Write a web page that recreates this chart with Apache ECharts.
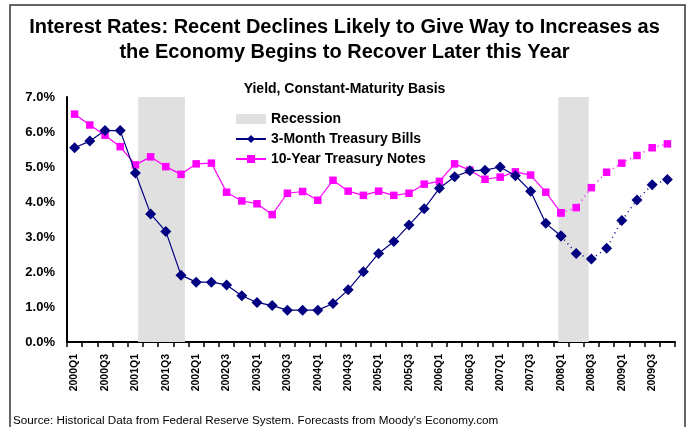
<!DOCTYPE html>
<html>
<head>
<meta charset="UTF-8">
<title>Interest Rates</title>
<script src="https://cdn.jsdelivr.net/npm/echarts@6/dist/echarts.min.js"></script>
<style>
  html, body { margin: 0; padding: 0; background: #fff; }
  #chart { width: 689px; height: 427px; }
</style>
</head>
<body>
<div id="chart"></div>
<script>
// quarters 2000Q1 .. 2009Q4
var quarters = [];
for (var y = 2000; y <= 2009; y++) {
    for (var q = 1; q <= 4; q++) quarters.push(y + 'Q' + q);
}

// 3-Month Treasury Bills, %
var bills = [5.55, 5.74, 6.04, 6.04, 4.83, 3.66, 3.16, 1.91,
             1.71, 1.71, 1.63, 1.32, 1.13, 1.04, 0.91, 0.91,
             0.91, 1.10, 1.49, 2.01, 2.53, 2.87, 3.34, 3.81,
             4.39, 4.72, 4.89, 4.91, 5.00, 4.75, 4.31, 3.39,
             3.03, 2.53, 2.37, 2.68, 3.47, 4.06, 4.49, 4.64];

// 10-Year Treasury Notes, %
var notes = [6.51, 6.20, 5.91, 5.58, 5.06, 5.29, 5.01, 4.79,
             5.09, 5.11, 4.28, 4.03, 3.95, 3.64, 4.25, 4.30,
             4.05, 4.62, 4.31, 4.19, 4.31, 4.19, 4.25, 4.51,
             4.59, 5.09, 4.91, 4.65, 4.71, 4.86, 4.77, 4.28,
             3.69, 3.84, 4.41, 4.85, 5.11, 5.33, 5.55, 5.66];

// last quarter of historical data, later ones are forecasts
var lastActual = '2008Q1';

// recession periods, in decimal years
var recessions = [[2001.17, 2001.94], [2008.08, 2008.58]];

var yTicks = [0, 1, 2, 3, 4, 5, 6, 7];

var cut = quarters.indexOf(lastActual);
function actual(arr) {
    return arr.map(function (v, i) { return i <= cut ? v : null; });
}
function forecast(arr) {
    return arr.map(function (v, i) { return i >= cut ? v : null; });
}

var font = 'Liberation Sans, Arial, sans-serif';
var navy = '#000080';
var pink = '#ff00ff';

var chart = echarts.init(document.getElementById('chart'));

var option = {
    animation: false,
    backgroundColor: '#fff',
    textStyle: { fontFamily: font },
    title: [{
        text: 'Interest Rates: Recent Declines Likely to Give Way to Increases as\nthe Economy Begins to Recover Later this Year',
        left: 'center',
        top: 10,
        padding: [5, 5, 5, 13],
        textStyle: { fontSize: 20, fontWeight: 'bold', color: '#000', lineHeight: 25, fontFamily: font }
    }, {
        text: 'Yield, Constant-Maturity Basis',
        left: 'center',
        top: 77,
        padding: [5, 5, 5, 11],
        textStyle: { fontSize: 14, fontWeight: 'bold', color: '#000', fontFamily: font }
    }, {
        text: "Source: Historical Data from Federal Reserve System. Forecasts from Moody's Economy.com",
        left: 8,
        top: 410,
        textStyle: { fontSize: 11.7, fontWeight: 'normal', color: '#000', fontFamily: font }
    }],
    legend: {
        orient: 'vertical',
        left: 230,
        top: 107,
        itemWidth: 30,
        itemHeight: 10,
        itemGap: 6,
        textStyle: { fontSize: 14, fontWeight: 'bold', color: '#000', fontFamily: font },
        data: [
            { name: 'Recession', icon: 'rect' },
            '3-Month Treasury Bills',
            '10-Year Treasury Notes'
        ]
    },
    grid: { left: 67, right: 14, top: 97, bottom: 85 },
    xAxis: [{
        type: 'category',
        data: quarters,
        boundaryGap: true,
        axisLine: { lineStyle: { color: '#000', width: 2 } },
        axisTick: { show: true, interval: 0, length: 5, lineStyle: { color: '#000', width: 1.5 } },
        axisLabel: {
            interval: 1,
            rotate: 90,
            margin: 12,
            fontSize: 10.5,
            fontWeight: 'bold',
            color: '#000',
            fontFamily: font
        },
        splitLine: { show: false }
    }, {
        type: 'value',
        min: 2000,
        max: 2010,
        show: false
    }],
    yAxis: {
        type: 'value',
        min: yTicks[0],
        max: yTicks[yTicks.length - 1],
        interval: 1,
        axisLine: { show: true, lineStyle: { color: '#000', width: 2 } },
        axisTick: { show: false },
        splitLine: { show: false },
        axisLabel: {
            margin: 12,
            fontSize: 13,
            fontWeight: 'bold',
            color: '#000',
            fontFamily: font,
            formatter: function (v) { return v.toFixed(1) + '%'; }
        }
    },
    series: [{
        name: 'Recession',
        type: 'line',
        xAxisIndex: 1,
        data: [],
        itemStyle: { color: '#e0e0e0' },
        z: 0,
        markArea: {
            silent: true,
            itemStyle: { color: '#e0e0e0' },
            data: recessions.map(function (r) {
                return [{ xAxis: r[0] }, { xAxis: r[1] }];
            })
        }
    }, {
        name: '3-Month Treasury Bills',
        type: 'line',
        data: actual(bills),
        symbol: 'diamond',
        symbolSize: 11,
        showAllSymbol: true,
        itemStyle: { color: navy },
        lineStyle: { color: navy, width: 1.2 },
        z: 3
    }, {
        name: '3-Month Treasury Bills',
        type: 'line',
        data: forecast(bills),
        symbol: 'diamond',
        symbolSize: 11,
        showAllSymbol: true,
        itemStyle: { color: navy },
        lineStyle: { color: navy, width: 1.5, type: [1, 4] },
        z: 3
    }, {
        name: '10-Year Treasury Notes',
        type: 'line',
        data: actual(notes),
        symbol: 'rect',
        symbolSize: 7.5,
        showAllSymbol: true,
        itemStyle: { color: pink },
        lineStyle: { color: pink, width: 1.2 },
        z: 2
    }, {
        name: '10-Year Treasury Notes',
        type: 'line',
        data: forecast(notes),
        symbol: 'rect',
        symbolSize: 7.5,
        showAllSymbol: true,
        itemStyle: { color: pink },
        lineStyle: { color: pink, width: 1.5, type: [1, 4] },
        z: 2
    }],
    graphic: [{
        type: 'rect',
        shape: { x: 10, y: 5, width: 675, height: 440 },
        style: { fill: null, stroke: '#333', lineWidth: 1.5 },
        silent: true
    }]
};

chart.setOption(option);
</script>
</body>
</html>
